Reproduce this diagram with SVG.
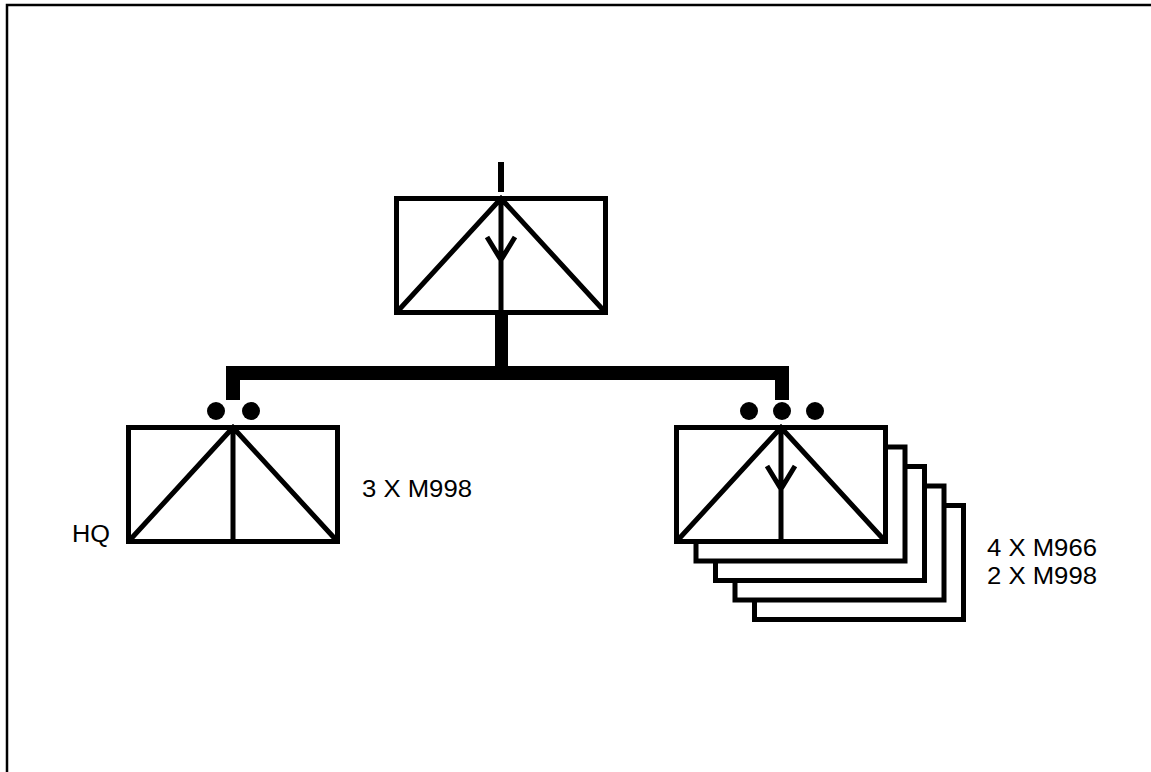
<svg xmlns="http://www.w3.org/2000/svg" width="1151" height="772" viewBox="0 0 1151 772">
<style>
.box{fill:#fff;stroke:#000;stroke-width:5}
.ln{fill:none;stroke:#000;stroke-width:5;stroke-linecap:butt}
.lbl{font-family:"Liberation Sans",Arial,sans-serif;font-size:23px;fill:#000}
.dot{fill:#000}
</style>
<rect width="1151" height="772" fill="#fff"/>
<path d="M7 772 V5 H1151" fill="none" stroke="#000" stroke-width="2.5"/>
<g id="connectors">
<rect x="498" y="162" width="6" height="30" fill="#000"/>
<rect x="495" y="313" width="13" height="55" fill="#000"/>
<path d="M233 400 V373 H782 V400" fill="none" stroke="#000" stroke-width="14"/>
</g>
<g id="node-top">
<rect class="box" x="396.5" y="198.5" width="209" height="114"/>
<path class="ln" d="M396.5 312.5 L501 198.5 L605.5 312.5 M501 198.5 V312.5 M487 237 L501 260 L515 237"/>
</g>
<g id="node-hq">
<circle class="dot" cx="216" cy="411" r="9"/>
<circle class="dot" cx="251" cy="411" r="9"/>
<rect class="box" x="128.5" y="427.5" width="209" height="114"/>
<path class="ln" d="M128.5 541.5 L233 427.5 L337.5 541.5 M233 427.5 V541.5"/>
<text class="lbl" x="72" y="542" textLength="38" lengthAdjust="spacingAndGlyphs">HQ</text>
<text class="lbl" x="362" y="497" textLength="110" lengthAdjust="spacingAndGlyphs">3 X M998</text>
</g>
<g id="node-stack">
<rect class="box" x="754.5" y="505.5" width="209" height="114"/>
<rect class="box" x="735" y="486" width="209" height="114"/>
<rect class="box" x="715.5" y="466.5" width="209" height="114"/>
<rect class="box" x="696" y="447" width="209" height="114"/>
<circle class="dot" cx="749" cy="411" r="9"/>
<circle class="dot" cx="782" cy="411" r="9"/>
<circle class="dot" cx="815" cy="411" r="9"/>
<rect class="box" x="676.5" y="427.5" width="209" height="114"/>
<path class="ln" d="M676.5 541.5 L781 427.5 L885.5 541.5 M781 427.5 V541.5 M767 466 L781 489 L795 466"/>
<text class="lbl" x="987" y="556" textLength="110" lengthAdjust="spacingAndGlyphs">4 X M966</text>
<text class="lbl" x="987" y="584" textLength="110" lengthAdjust="spacingAndGlyphs">2 X M998</text>
</g>
</svg>
